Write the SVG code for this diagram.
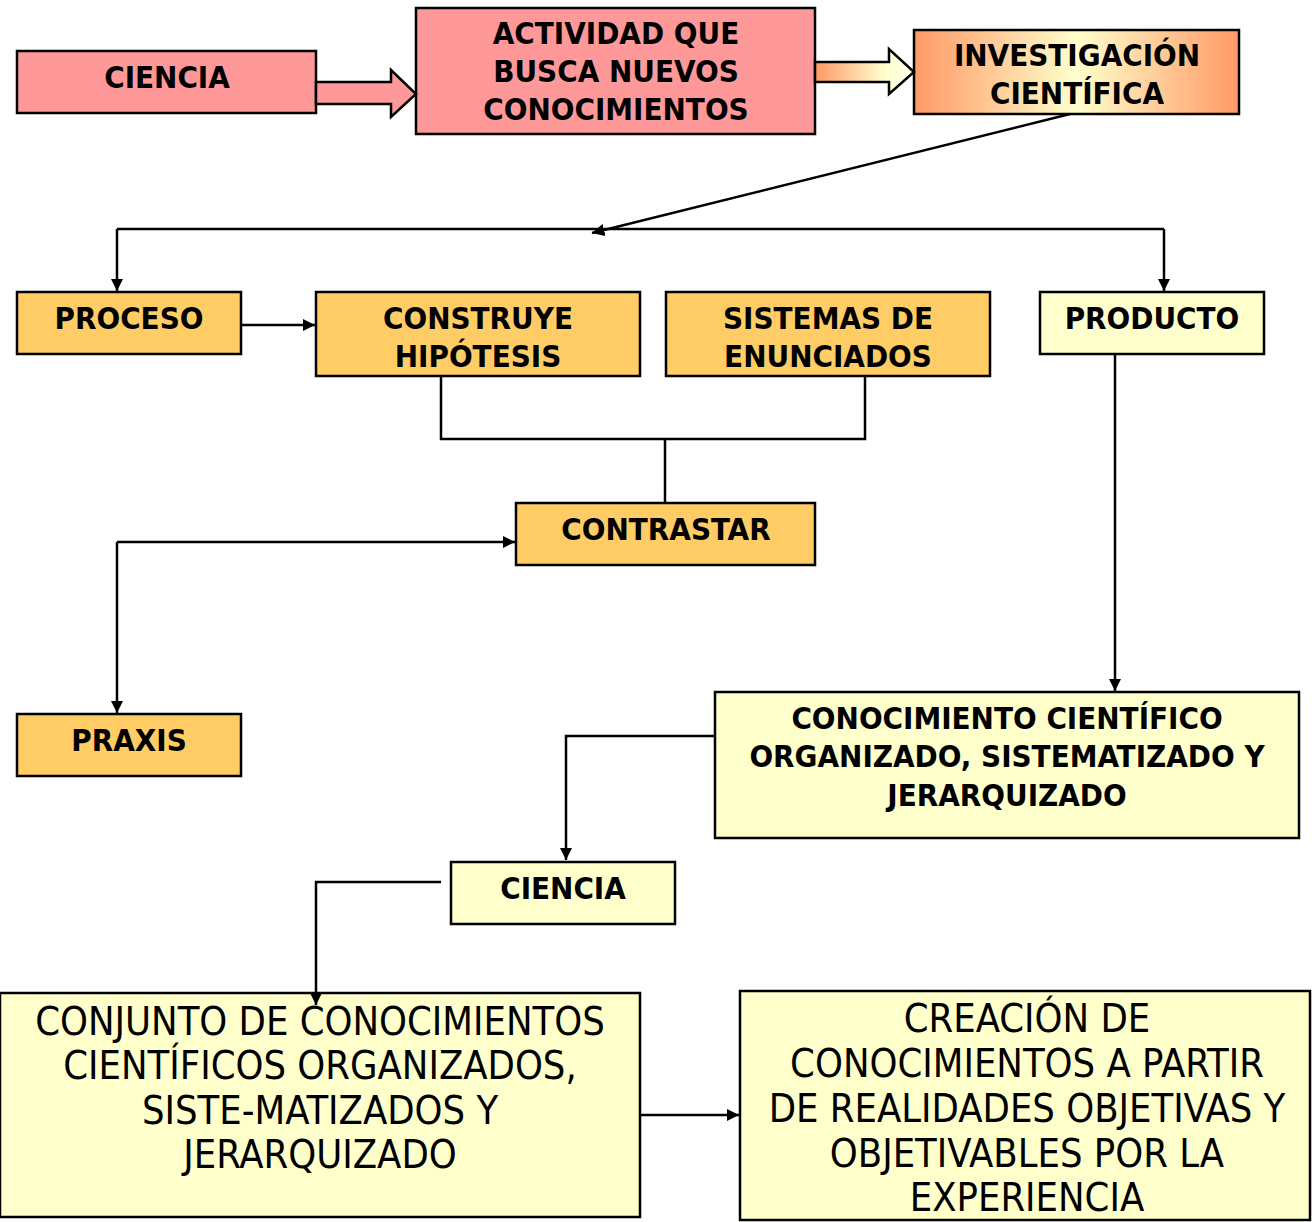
<svg xmlns="http://www.w3.org/2000/svg" width="1312" height="1222" viewBox="0 0 1312 1222">
<style>
.box{stroke:#000;stroke-width:2.5}
.pink{fill:#FF9999}
.org{fill:#FFCC66}
.yel{fill:#FFFFCC}
.t{font-family:"DejaVu Sans Condensed","DejaVu Sans",sans-serif;font-size:31px;font-weight:600;text-anchor:middle;fill:#000}
.tb{font-family:"DejaVu Sans Condensed","DejaVu Sans",sans-serif;font-size:39.5px;text-anchor:middle;fill:#000}
.ln{fill:none;stroke:#000;stroke-width:2.5}
</style>
<defs>
<marker id="ah" viewBox="0 0 10 10" refX="10" refY="5" markerWidth="5" markerHeight="5" orient="auto" markerUnits="strokeWidth">
<path d="M0,0 L10,5 L0,10 z" fill="#000"/>
</marker>
<linearGradient id="gbox" x1="0" y1="0" x2="1" y2="0">
<stop offset="0" stop-color="#FF9966"/>
<stop offset="0.5" stop-color="#FFFFCC"/>
<stop offset="1" stop-color="#FF9966"/>
</linearGradient>
<linearGradient id="garr" x1="0" y1="0" x2="1" y2="0">
<stop offset="0" stop-color="#FF9966"/>
<stop offset="0.7" stop-color="#FFFFCC"/>
<stop offset="1" stop-color="#FFFFEE"/>
</linearGradient>
</defs>
<g id="ciencia1"><rect class="box pink" x="17" y="51" width="299" height="62"/><text class="t" x="167" y="88">CIENCIA</text></g>
<g id="actividad"><rect class="box pink" x="416" y="8" width="399" height="126"/><text class="t" x="616" y="44">ACTIVIDAD QUE</text><text class="t" x="616" y="82">BUSCA NUEVOS</text><text class="t" x="616" y="120">CONOCIMIENTOS</text></g>
<g id="investigacion"><rect x="914" y="30" width="325" height="84" fill="url(#gbox)" stroke="#000" stroke-width="2.5"/><text class="t" x="1077" y="66">INVESTIGACIÓN</text><text class="t" x="1077" y="104">CIENTÍFICA</text></g>
<g id="proceso"><rect class="box org" x="17" y="292" width="224" height="62"/><text class="t" x="129" y="329">PROCESO</text></g>
<g id="construye"><rect class="box org" x="316" y="292" width="324" height="84"/><text class="t" x="478" y="329">CONSTRUYE</text><text class="t" x="478" y="367">HIPÓTESIS</text></g>
<g id="sistemas"><rect class="box org" x="666" y="292" width="324" height="84"/><text class="t" x="828" y="329">SISTEMAS DE</text><text class="t" x="828" y="367">ENUNCIADOS</text></g>
<g id="producto"><rect class="box yel" x="1040" y="292" width="224" height="62"/><text class="t" x="1152" y="329">PRODUCTO</text></g>
<g id="contrastar"><rect class="box org" x="516" y="503" width="299" height="62"/><text class="t" x="666" y="540">CONTRASTAR</text></g>
<g id="praxis"><rect class="box org" x="17" y="714" width="224" height="62"/><text class="t" x="129" y="751">PRAXIS</text></g>
<g id="conocimiento"><rect class="box yel" x="715" y="692" width="584" height="146"/><text class="t" x="1007" y="729">CONOCIMIENTO CIENTÍFICO</text><text class="t" x="1007" y="767">ORGANIZADO, SISTEMATIZADO Y</text><text class="t" x="1007" y="806">JERARQUIZADO</text></g>
<g id="ciencia2"><rect class="box yel" x="451" y="862" width="224" height="62"/><text class="t" x="563" y="899">CIENCIA</text></g>
<g id="conjunto"><rect class="box yel" x="0" y="993" width="640" height="224"/><text class="tb" x="320" y="1035">CONJUNTO DE CONOCIMIENTOS</text><text class="tb" x="320" y="1079">CIENTÍFICOS ORGANIZADOS,</text><text class="tb" x="320" y="1124">SISTE-MATIZADOS Y</text><text class="tb" x="320" y="1168">JERARQUIZADO</text></g>
<g id="creacion"><rect class="box yel" x="740" y="991" width="570" height="229"/><text class="tb" x="1027" y="1032">CREACIÓN DE</text><text class="tb" x="1027" y="1077">CONOCIMIENTOS A PARTIR</text><text class="tb" x="1027" y="1122">DE REALIDADES OBJETIVAS Y</text><text class="tb" x="1027" y="1167">OBJETIVABLES POR LA</text><text class="tb" x="1027" y="1211">EXPERIENCIA</text></g>
<g id="connectors">
<path class="box pink" d="M316,82 L391,82 L391,70 L416,94 L391,117 L391,104 L316,104 z"/>
<path d="M815,62 L889,62 L889,49 L914,72 L889,94 L889,82 L815,82 z" fill="url(#garr)" stroke="#000" stroke-width="2.5"/>
<path class="ln" d="M1070,114 L592,233" marker-end="url(#ah)"/>
<path class="ln" d="M117,229 L1164,229"/>
<path class="ln" d="M117,229 L117,291" marker-end="url(#ah)"/>
<path class="ln" d="M1164,229 L1164,291" marker-end="url(#ah)"/>
<path class="ln" d="M241,325 L315,325" marker-end="url(#ah)"/>
<path class="ln" d="M441,376 L441,439 L865,439 L865,376"/>
<path class="ln" d="M665,439 L665,503"/>
<path class="ln" d="M117,542 L515,542" marker-end="url(#ah)"/>
<path class="ln" d="M117,542 L117,713" marker-end="url(#ah)"/>
<path class="ln" d="M1115,354 L1115,691" marker-end="url(#ah)"/>
<path class="ln" d="M715,736 L566,736 L566,860" marker-end="url(#ah)"/>
<path class="ln" d="M441,882 L316,882 L316,1005" marker-end="url(#ah)"/>
<path class="ln" d="M640,1115 L739,1115" marker-end="url(#ah)"/>
</g>
</svg>
